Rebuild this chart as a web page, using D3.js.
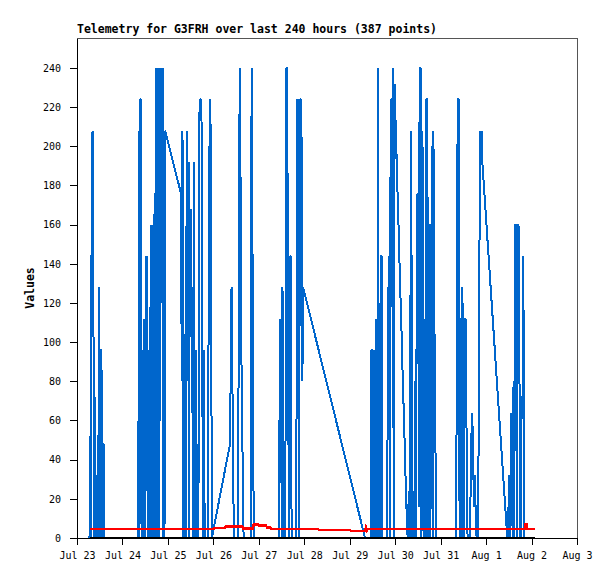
<!DOCTYPE html>
<html>
<head>
<meta charset="utf-8">
<script src="https://cdn.jsdelivr.net/npm/d3@7.9.0/dist/d3.min.js"></script>
<style>
  body { margin: 0; background: #fff; }
  svg { display: block; }
  .tick text { font-family: "DejaVu Sans Mono", monospace; font-size: 10px; fill: #000; }
  .tick line { stroke: #000; }
</style>
</head>
<body>
<div id="chart"></div>
<script>
// time axis: Jul 23 00:00 .. Aug 3 00:00, points are [hours since start, value]
const startDate = new Date(2024, 6, 23);
const endDate = new Date(2024, 7, 3);
const yMax = 255.3;
const yTicks = [0, 20, 40, 60, 80, 100, 120, 140, 160, 180, 200, 220, 240];
const titleText = 'Telemetry for G3FRH over last 240 hours (387 points)';
const yLabel = 'Values';

const blueSeries = [
    [6.6,0],[7.0,52],[7.3,0],[7.7,156],[8.2,208],[8.6,144],[9.0,0],[9.5,72],[9.9,0],[10.3,8],
    [10.8,32],[11.2,0],[11.6,128],[12.0,0],[12.4,96],[12.9,96],[13.3,0],[13.6,48],[14.1,48],[14.4,0],
    [32.4,0],[32.7,208],[33.0,0],[33.3,224],[33.8,224],[34.1,0],[34.4,96],[34.7,48],[35.0,0],[35.5,112],
    [35.9,0],[36.3,144],[36.7,24],[37.1,144],[37.4,0],[37.6,80],[38.0,0],[38.2,96],[38.6,0],[38.9,160],
    [39.2,32],[39.5,160],[39.8,0],[40.1,56],[40.5,0],[40.8,160],[41.2,176],[41.5,0],[41.8,240],[42.2,80],
    [42.6,240],[42.9,0],[43.1,208],[43.5,0],[43.8,240],[44.2,120],[44.6,240],[45.0,120],[45.3,240],[45.6,0],
    [45.8,104],[46.2,0],[46.5,208],
    [54.9,176],[55.3,80],[55.7,208],[56.1,0],[56.9,0],[57.2,104],[57.6,0],[57.9,208],[58.3,80],[58.7,160],
    [59.1,0],[59.3,192],[59.6,120],[60.0,168],[60.3,128],[60.7,64],[61.0,128],[61.3,0],[61.8,192],[62.2,0],
    [62.9,96],[63.3,0],[64.1,0],[64.6,216],[65.1,224],[65.6,224],[66.0,192],[66.4,0],[67.0,96],[67.4,0],
    [69.0,0],[69.5,112],[70.1,224],[70.6,208],[71.2,0],
    [80.8,48],[81.6,128],[82.2,64],[82.8,0],[85.0,0],[85.5,136],[85.9,240],[86.4,176],[86.8,93],[87.3,56],
    [87.6,16],[88.0,0],[91.7,0],[92.2,240],[92.8,120],[93.3,0],
    [106.5,0],[106.9,56],[107.3,112],[107.6,28],[107.9,112],[108.2,0],[108.5,128],[108.8,64],[109.1,0],[110.0,0],
    [110.5,240],[110.9,240],[111.2,176],[111.6,64],[111.9,0],[112.5,144],[112.9,144],[113.3,0],[115.8,0],[116.2,224],
    [116.6,112],[116.9,224],[117.2,0],[117.8,224],[118.3,224],[118.7,192],[119.0,80],[119.4,128],
    [152.1,0],
    [155.0,0],[155.4,96],[155.8,96],[156.2,0],[156.6,96],[157.0,64],[157.3,28],[157.6,0],[158.1,112],[158.5,0],
    [158.9,240],[159.3,0],[159.6,120],[160.0,0],[160.4,144],[160.8,144],[161.2,0],[163.8,0],[164.2,128],[164.5,56],
    [164.9,144],[165.2,0],[165.6,216],[166.0,224],[166.4,224],[166.7,56],[167.0,240],[167.4,0],[167.7,232],[168.1,216],
    [168.6,200],[169.0,184],[169.5,168],[170.0,152],[170.4,136],[170.9,120],[171.4,104],[171.8,88],[172.3,72],[172.8,56],
    [173.2,40],[173.7,24],[174.2,8],[174.6,0],[175.2,24],[175.6,0],[176.0,104],[176.5,208],[176.9,0],[177.9,24],
    [178.2,0],[178.7,80],[179.0,0],[179.4,144],[179.8,176],[180.2,136],[180.5,16],[180.9,240],[181.5,240],[181.9,0],
    [182.4,208],[182.8,80],[183.1,0],[183.8,112],[184.2,0],[184.5,224],[185.0,224],[185.3,0],[185.7,160],[186.2,160],
    [186.6,0],[187.0,96],[187.4,200],[187.8,0],[188.2,208],[188.6,104],[189.0,104],[189.5,0],
    [200.2,0],[200.6,112],[201.0,224],[201.6,224],[202.0,0],[202.4,112],[202.8,112],[203.1,0],[203.5,128],[203.9,64],
    [204.3,0],[204.8,112],[205.2,112],[205.6,56],[206.0,56],[206.2,0],
    [207.3,0],[207.7,16],[208.2,48],[208.5,64],[208.9,56],[209.3,32],[209.7,16],[210.1,32],[210.6,8],[211.0,0],
    [211.4,8],[211.8,0],[212.3,104],[212.8,208],[213.2,200],[213.6,208],[214.0,192],
    [227.2,0],
    [227.6,0],[228.1,32],[228.5,0],[228.9,16],[229.2,64],[229.6,48],[230.0,0],[230.5,80],[230.9,0],[231.3,160],
    [231.9,160],[232.3,0],[232.7,160],[233.1,160],[233.5,144],[233.8,8],[234.2,0],[234.8,72],[235.3,72],[235.7,144],
    [236.0,0]
];

const redSeries = [
    [6.6,4.6],[72.3,4.6],[72.8,5.2],[78.1,5.2],[78.6,6],[87.1,6],[87.6,5],[92.9,5],[93.4,7],[95.6,7],
    [96.1,6.3],[99.8,6.3],[100.3,5.5],[101.9,5.5],[102.4,4.6],[127.2,4.6],[127.7,4.1],[144.1,4.1],[144.6,3.6],[152.1,3.6],
    [152.6,5.4],[153.1,4.0],[153.6,4.6],[236.5,4.6],[236.9,7],[237.4,7],[237.8,4.6],[241.7,4.6]
];

const blackSeries = [[6.6,0],[241.7,0]];

const width = 615;
const height = 579;
const margin = { top: 38, right: 38, bottom: 41, left: 77 };

const toDate = (h) => new Date(startDate.getTime() + h * 3600 * 1000);

const xScale = d3.scaleTime()
    .domain([startDate, endDate])
    .range([margin.left, width - margin.right]);
const yScale = d3.scaleLinear()
    .domain([0, yMax])
    .range([height - margin.bottom, margin.top]);

const svg = d3.select('#chart')
    .append('svg')
    .attr('width', width)
    .attr('height', height)
    .attr('viewBox', `0 0 ${width} ${height}`);

svg.append('rect')
    .attr('width', width)
    .attr('height', height)
    .attr('fill', '#fff');

// plot frame (top and right are grey)
svg.append('rect')
    .attr('x', margin.left + 0.5)
    .attr('y', margin.top + 0.5)
    .attr('width', width - margin.left - margin.right)
    .attr('height', height - margin.top - margin.bottom)
    .attr('fill', 'none')
    .attr('stroke', '#555')
    .attr('shape-rendering', 'crispEdges');

svg.append('defs').append('clipPath')
    .attr('id', 'plot-clip')
    .append('rect')
    .attr('x', margin.left)
    .attr('y', margin.top)
    .attr('width', width - margin.left - margin.right + 1)
    .attr('height', height - margin.top - margin.bottom + 1);

const line = d3.line()
    .x((d) => xScale(toDate(d[0])))
    .y((d) => yScale(d[1]));

const plot = svg.append('g').attr('clip-path', 'url(#plot-clip)');

// draw order: blue first, then red, black on top
plot.append('path')
    .datum(blueSeries)
    .attr('d', line)
    .attr('fill', 'none')
    .attr('stroke', '#0066cc')
    .attr('stroke-width', 2)
    .attr('stroke-linejoin', 'bevel')
    .attr('shape-rendering', 'crispEdges');

plot.append('path')
    .datum(redSeries)
    .attr('d', line)
    .attr('fill', 'none')
    .attr('stroke', '#ff0000')
    .attr('stroke-width', 2.6)
    .attr('shape-rendering', 'crispEdges');

plot.append('path')
    .datum(blackSeries)
    .attr('d', line)
    .attr('fill', 'none')
    .attr('stroke', '#000')
    .attr('stroke-width', 2)
    .attr('shape-rendering', 'crispEdges');

// Axes
const xAxis = d3.axisBottom(xScale)
    .ticks(d3.timeDay.every(1))
    .tickFormat(d3.timeFormat('%b %-d'))
    .tickSize(7)
    .tickSizeOuter(0)
    .tickPadding(7);
const gx = svg.append('g')
    .attr('transform', `translate(0, ${height - margin.bottom})`)
    .call(xAxis);
gx.select('.domain').attr('stroke', '#000').attr('shape-rendering', 'crispEdges');
gx.selectAll('.tick line').attr('shape-rendering', 'crispEdges');

const yAxis = d3.axisLeft(yScale)
    .tickValues(yTicks)
    .tickSize(7)
    .tickSizeOuter(0)
    .tickPadding(9);
const gy = svg.append('g')
    .attr('transform', `translate(${margin.left}, 0)`)
    .call(yAxis);
gy.select('.domain').attr('stroke', '#000').attr('shape-rendering', 'crispEdges');
gy.selectAll('.tick line').attr('shape-rendering', 'crispEdges');

// Title and axis label
svg.append('text')
    .attr('x', margin.left)
    .attr('y', 33)
    .attr('font-family', '"DejaVu Sans Mono", monospace')
    .attr('font-weight', 'bold')
    .attr('font-size', 11.5)
    .text(titleText);

svg.append('text')
    .attr('transform', `translate(34, ${(margin.top + height - margin.bottom) / 2}) rotate(-90)`)
    .attr('text-anchor', 'middle')
    .attr('font-family', '"DejaVu Sans Mono", monospace')
    .attr('font-weight', 'bold')
    .attr('font-size', 11.5)
    .text(yLabel);
</script>
</body>
</html>
